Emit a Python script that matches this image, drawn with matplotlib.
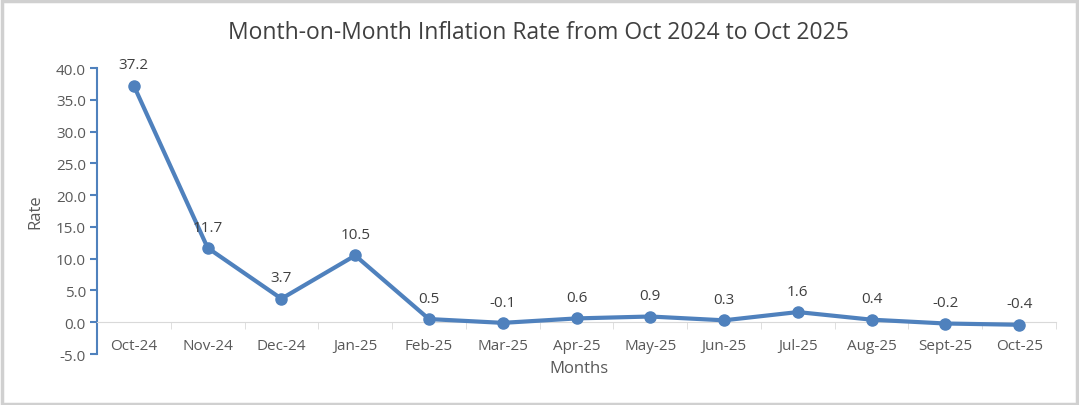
import numpy as np
import matplotlib.pyplot as plt
from matplotlib.patches import Rectangle
from matplotlib.ticker import FixedLocator

months = ['Oct-24', 'Nov-24', 'Dec-24', 'Jan-25', 'Feb-25', 'Mar-25', 'Apr-25',
          'May-25', 'Jun-25', 'Jul-25', 'Aug-25', 'Sept-25', 'Oct-25']
rate = [37.2, 11.7, 3.7, 10.5, 0.5, -0.1, 0.6, 0.9, 0.3, 1.6, 0.4, -0.2, -0.4]
yticks = [-5, 0, 5, 10, 15, 20, 25, 30, 35, 40]

plt.rcParams['font.family'] = ['Open Sans', 'DejaVu Sans']

line_color = '#4F81BD'
text_color = '#595959'

fig = plt.figure(figsize=(10.79, 4.06), dpi=100)
ax = fig.add_axes([0.0899, 0.1256, 0.8888, 0.7044])

x = np.arange(len(months))
ax.plot(x, rate, color=line_color, linewidth=3, marker='o', markersize=8, zorder=3)

for xi, v in zip(x, rate):
    ax.annotate('{:.1f}'.format(v), (xi, v), xytext=(0, 15), textcoords='offset points',
                ha='center', va='center', fontsize=11, color='#404040')

ax.set_xlim(-0.5, len(months) - 0.5)
ax.set_ylim(-5, 40)
ax.set_yticks(yticks)
ax.set_yticklabels(['{:.1f}'.format(t) for t in yticks])

ax.spines['top'].set_visible(False)
ax.spines['right'].set_visible(False)
ax.spines['bottom'].set_position(('data', 0))
ax.spines['bottom'].set_color('#d9d9d9')
ax.spines['left'].set_color(line_color)
ax.spines['left'].set_linewidth(1.5)

ax.set_xticks(x)
ax.set_xticklabels(months)
ax.xaxis.set_minor_locator(FixedLocator(np.arange(-0.5, len(months), 1.0)))
ax.tick_params(axis='x', which='major', length=0, pad=11, labelsize=11, labelcolor=text_color)
ax.tick_params(axis='x', which='minor', length=5, color='#d9d9d9', direction='out')
ax.tick_params(axis='y', length=5, color=line_color, width=1.5, labelsize=11, labelcolor=text_color, pad=3)

fig.text(0.499, 0.918, 'Month-on-Month Inflation Rate from Oct 2024 to Oct 2025',
         ha='center', va='center', fontsize=16.5, color='#404040')
fig.text(0.537, 0.091, 'Months', ha='center', va='center', fontsize=12, color=text_color)
fig.text(0.033, 0.478, 'Rate', ha='center', va='center', rotation=90, fontsize=12, color=text_color)

fig.patches.append(Rectangle((0.0015, 0.003), 0.997, 0.993, transform=fig.transFigure,
                             fill=False, edgecolor='#d0d0d0', linewidth=2.5))

plt.savefig('out.png', dpi=100)
